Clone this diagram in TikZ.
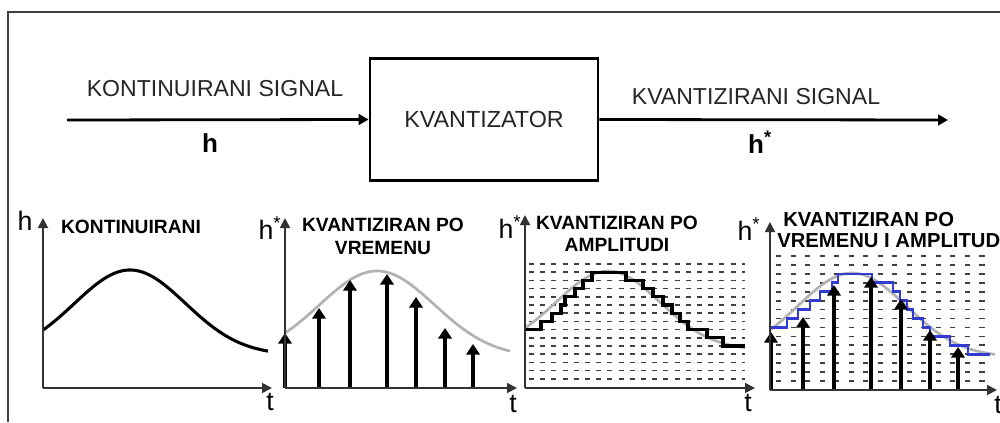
\documentclass[tikz,border=0pt]{standalone}
\usepackage{fontspec}
\setmainfont{Liberation Sans}
\usetikzlibrary{arrows.meta}
\begin{document}
\begin{tikzpicture}[x=0.75pt,y=-0.75pt,
 lbl/.style={font=\fontsize{17.3}{19}\selectfont, text=black!85, inner sep=0},
 hlbl/.style={font=\fontsize{19.5}{21}\selectfont\bfseries, inner sep=0},
 ttl/.style={font=\fontsize{14.4}{17}\selectfont\bfseries, inner sep=0, align=center},
 ttlb/.style={font=\fontsize{15.2}{17}\selectfont\bfseries, inner sep=0, anchor=west},
 axlbl/.style={font=\fontsize{20}{22}\selectfont, inner sep=0},
 sig/.style={line width=2.1pt, -{Triangle[length=7.5pt,width=8pt]}},
 qbox/.style={draw, line width=2.1pt, minimum width=171pt, minimum height=92pt, font=\fontsize{17.5}{19}\selectfont, text=black!85},
 axis/.style={line width=1.4pt, draw=black!80, -{Triangle[length=7.5pt,width=7.5pt]}},
 stem/.style={line width=2.3pt, -{Triangle[length=8pt,width=10pt]}},
 gridA/.style={line width=1.3pt, draw=black!75, dash pattern=on 3.8pt off 4.6pt},
 gridB/.style={line width=1.3pt, draw=black!75, dash pattern=on 3.8pt off 7.1pt},
 curve/.style={line width=2pt, draw=black!30},
 stairs/.style={line width=2.3pt, draw=black},
 bstairs/.style={line width=2pt, draw={rgb,255:red,50;green,60;blue,210}},
 ]
\useasboundingbox (0,0) rectangle (1000,422);
\fill[white] (0,0) rectangle (1000,422);
% frame
\draw[line width=1.2pt, draw=black!75] (8,422) -- (8,12) -- (1000,12);

% ---- top block diagram
\node[qbox] (q) at (484,119.5) {KVANTIZATOR};
\coordinate (in) at (67,120);
\coordinate (out) at (948,120);
\draw[sig] (in) -- (q.west);
\draw[sig] (q.east) -- (out);
\node[lbl] (l1) at (215,89) {KONTINUIRANI SIGNAL};
\node[hlbl] (h1) at (210,143) {h};
\node[lbl] (l2) at (756,97) {KVANTIZIRANI SIGNAL};
\node[hlbl] (h2) at (760,142) {h\textsuperscript{*}};

% ---- panel 1
\draw[line width=2.3pt] plot[domain=43:268, samples=80, smooth] (\x, {355-85*exp(-((\x-130)/78.6)*((\x-130)/78.6))});
\draw[axis] (43,388) -- (43,218);
\draw[axis] (43,388) -- (272,388);
\node[axlbl] (p1h) at (25,221) {h};
\node[axlbl] (p1t) at (270,402) {t};
\node[ttl] (p1ttl) at (131,227) {KONTINUIRANI};

% ---- panel 2
\draw[curve] plot[domain=285:510, samples=80, smooth] (\x, {357-86*exp(-((\x-377)/81.4)*((\x-377)/81.4))});
\foreach \sx/\sy in {285/333, 319/308, 350/280, 387/274, 416/297, 445/328, 473/344}
  \draw[stem] (\sx,388) -- (\sx,\sy);
\draw[axis] (285,388) -- (285,218);
\draw[axis] (285,388) -- (517,388);
\node[axlbl] (p2h) at (270,228) {h\textsuperscript{*}};
\node[axlbl] (p2t) at (513,404) {t};
\node[ttl] (p2ttl) at (383,236.5) {KVANTIZIRAN PO\\VREMENU};

% ---- panel 3
\foreach \k in {0,...,14}
  \draw[gridA] (529,{264+8.2*\k}) -- (745,{264+8.2*\k});
\draw[curve] plot[domain=525:745, samples=80, smooth] (\x, {350-79*exp(-((\x-608)/73.4)*((\x-608)/73.4))});
\draw[stairs] (525,329.6) -- (541,329.6) |- (552,321.4) |- (561,313.2) |- (565,305) |- (575,296.8)
  |- (583,288.6) |- (592,280.4) |- (626,272.2) |- (643,280.4) |- (653,288.6) |- (663,296.8)
  |- (672,305) |- (680,313.2) |- (688,321.4) |- (707,329.6) |- (723,337.8) |- (745,346);
\draw[axis] (525,388) -- (525,215);
\draw[axis] (525,388) -- (755,388);
\node[axlbl] (p3h) at (510,227) {h\textsuperscript{*}};
\node[axlbl] (p3t) at (748,403) {t};
\node[ttl] (p3ttl) at (617,234) {KVANTIZIRAN PO\\AMPLITUDI};

% ---- panel 4
\foreach \k in {0,...,14}
  \draw[gridB] (776,{256+8.93*\k}) -- (992,{256+8.93*\k});
\draw[curve] plot[domain=770:995, samples=80, smooth] (\x, {357-84*exp(-((\x-852)/76.9)*((\x-852)/76.9))});
\draw[bstairs] (770,327.4) -- (787,327.4) |- (798,318.5) |- (810,309.6) |- (820,300.7) |- (832,291.7)
  |- (838,282.8) |- (872,273.9) |- (893,282.8) |- (900,291.7) |- (907,300.7) |- (913,309.6)
  |- (923,318.5) |- (930,327.4) |- (950,336.4) |- (968,345.3) |- (990,354.2);
\foreach \sx/\sy in {771/332, 803/317, 834/285, 871/277, 901/299, 930/330, 958/347}
  \draw[stem] (\sx,390) -- (\sx,\sy);
\draw[axis] (770,390) -- (770,222);
\draw[axis] (770,390) -- (997,390);
\node[axlbl] (p4h) at (749,229) {h\textsuperscript{*}};
\node[axlbl] (p4t) at (998,405) {t};
\node[ttlb] (p4ttla) at (783,220) {KVANTIZIRAN PO};
\node[ttlb] (p4ttlb) at (777,241) {VREMENU I AMPLITUDI};
\end{tikzpicture}
\end{document}
